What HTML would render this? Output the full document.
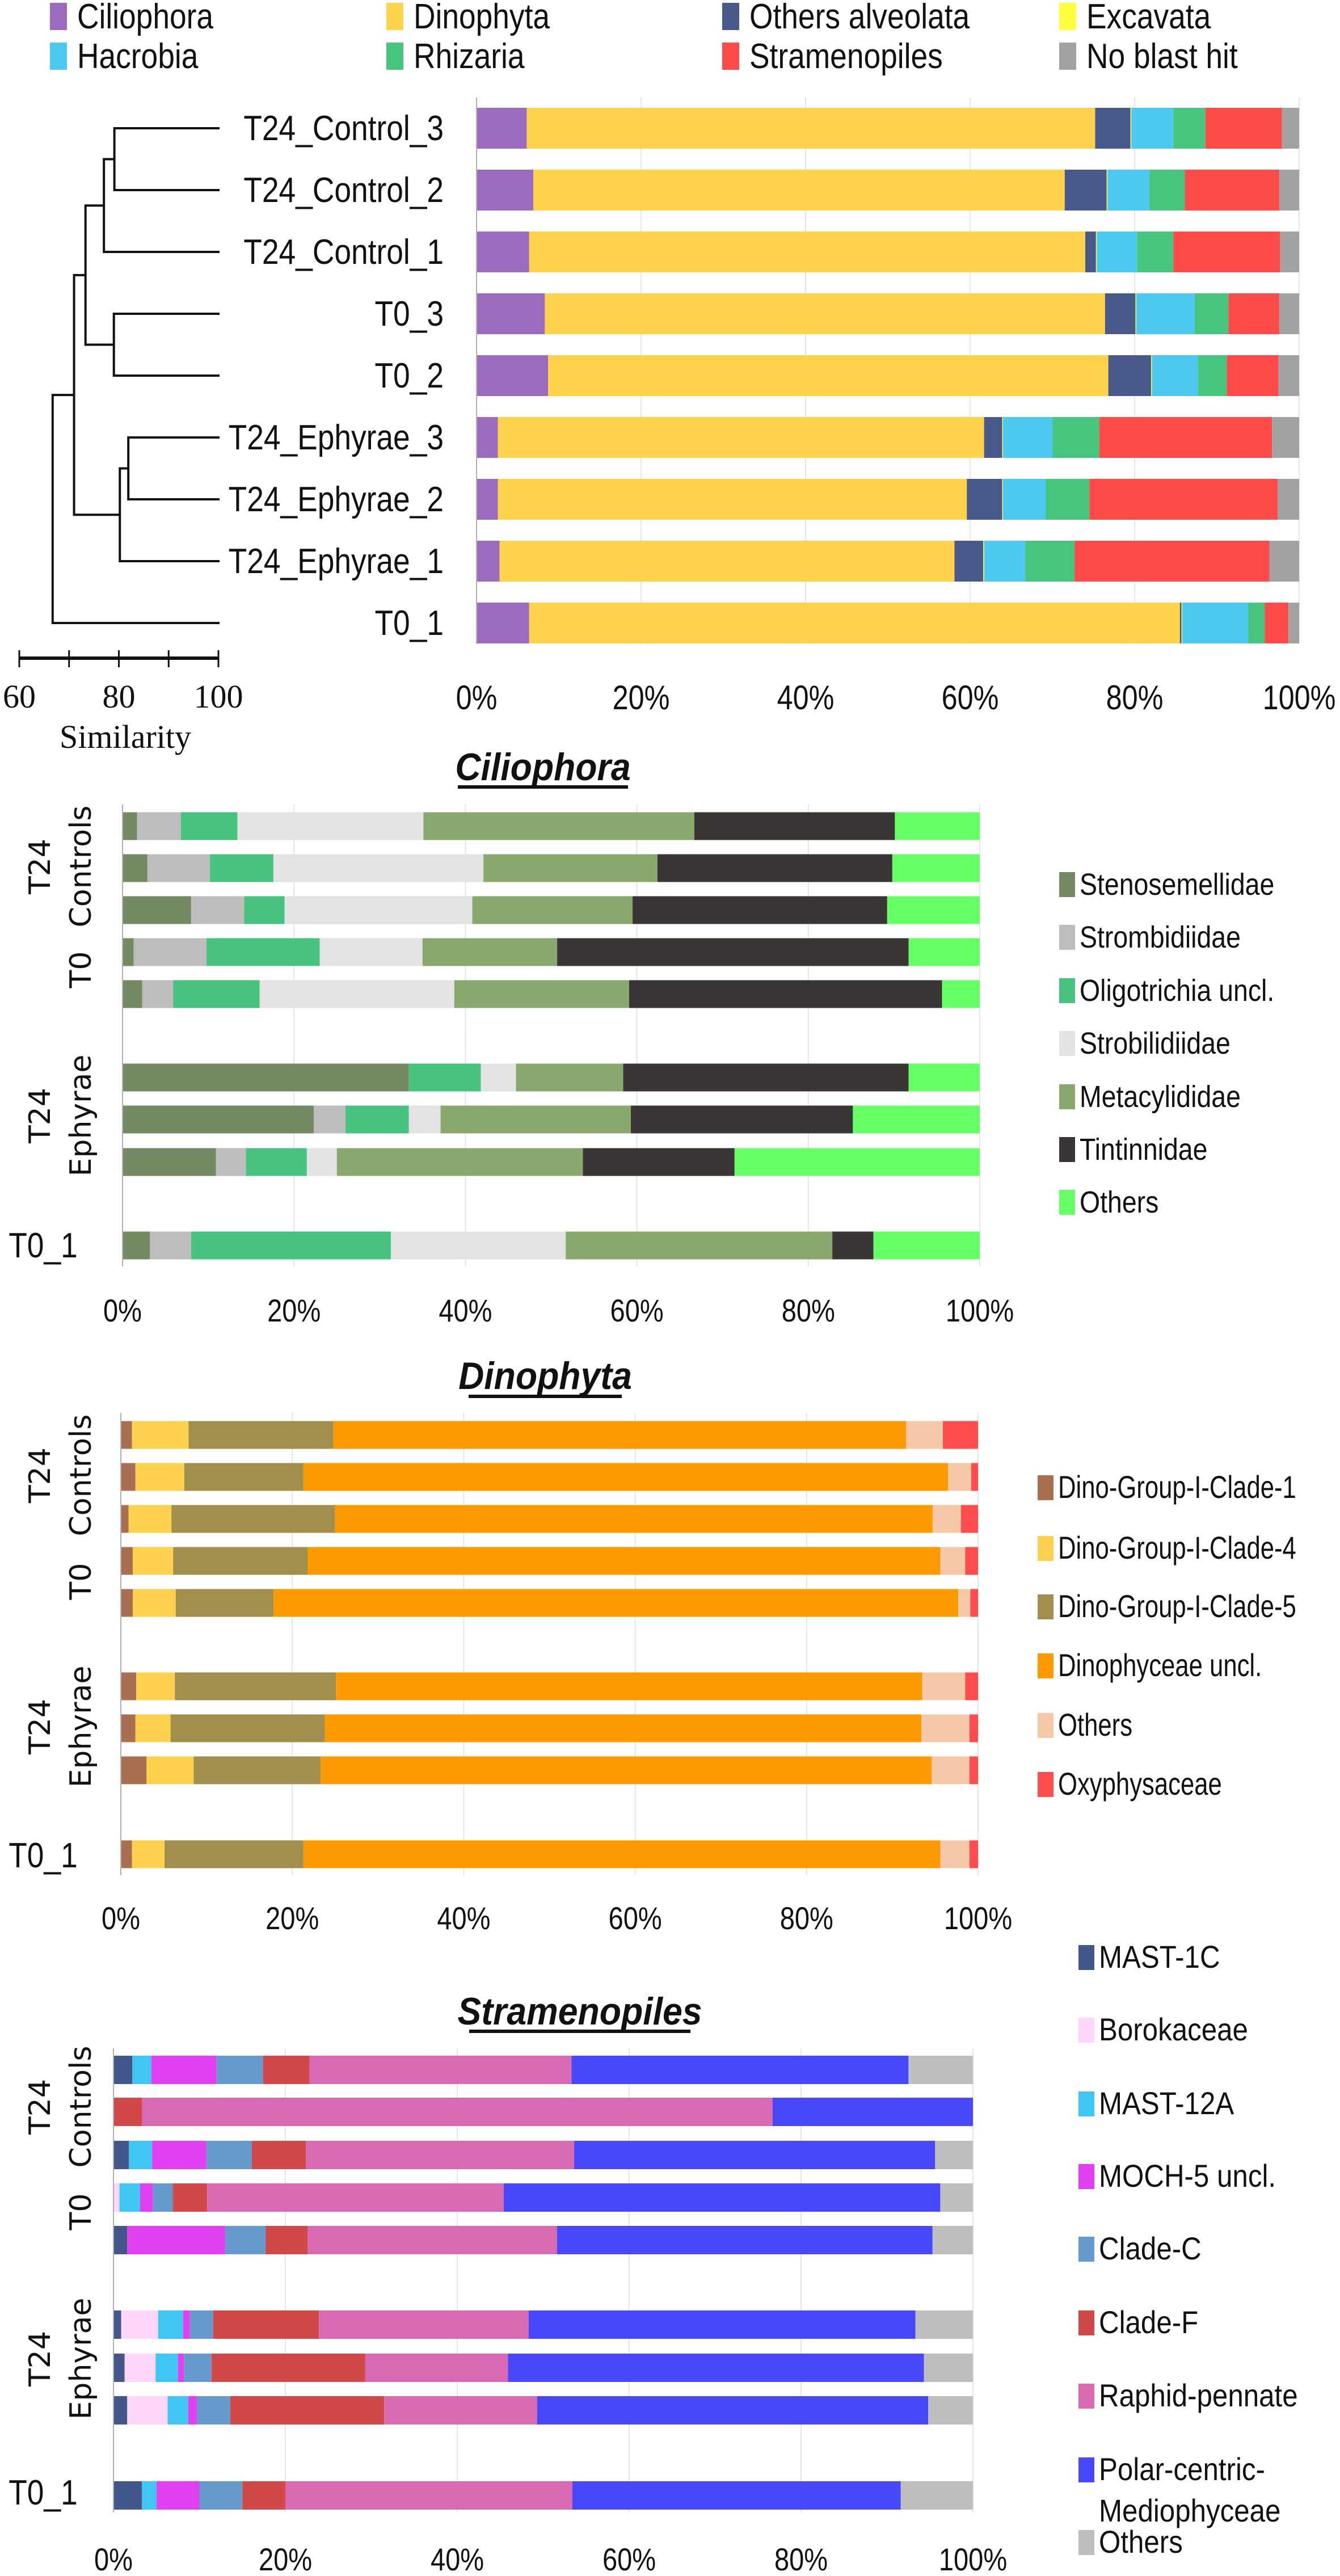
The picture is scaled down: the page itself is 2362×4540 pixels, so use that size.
<!DOCTYPE html>
<html><head><meta charset="utf-8">
<style>
html,body{margin:0;padding:0;background:#fff;}
svg{display:block;}
.n{font-family:"Liberation Sans Narrow","Liberation Sans",sans-serif;}
.w{font-family:"DejaVu Sans","Liberation Sans",sans-serif;}
.s{font-family:"Liberation Serif",serif;}
</style></head>
<body>
<svg id="fig" width="2362" height="4540" viewBox="0 0 2362 4540" xmlns="http://www.w3.org/2000/svg"></svg>
<script>
// ===== Top chart data =====
const topSamples = ["T24_Control_3","T24_Control_2","T24_Control_1","T0_3","T0_2","T24_Ephyrae_3","T24_Ephyrae_2","T24_Ephyrae_1","T0_1"];
const topCats = ["Ciliophora","Dinophyta","Others alveolata","Excavata","Hacrobia","Rhizaria","Stramenopiles","No blast hit"];
const topColors = ["#9b6bbd","#ffd24b","#48598a","#ffff40","#4dc8f0","#47c57e","#ff4a4a","#a2a2a2"];
const topCiliophora = [6.1,6.9,6.4,8.3,8.7,2.6,2.6,2.8,6.4];
const topDinophyta = [69.1,64.6,67.6,68.1,68.1,59.1,57.0,55.3,79.1];
const topOthersAlv = [4.3,5.1,1.3,3.7,5.2,2.2,4.3,3.5,0.2];
const topExcavata = [0.1,0.1,0.1,0.1,0.1,0.1,0.1,0.1,0.1];
const topHacrobia = [5.1,5.1,4.9,7.1,5.6,6.0,5.2,5.0,8.0];
const topRhizaria = [3.9,4.3,4.4,4.1,3.5,5.7,5.3,6.0,2.0];
const topStramenopiles = [9.3,11.5,13.0,6.2,6.3,21.0,22.9,23.7,2.9];
const topNoBlast = [2.1,2.4,2.3,2.4,2.5,3.3,2.6,3.6,1.3];
const topSeries = [topCiliophora,topDinophyta,topOthersAlv,topExcavata,topHacrobia,topRhizaria,topStramenopiles,topNoBlast];
const pctTicks = ["0%","20%","40%","60%","80%","100%"];
const pctTickValues = [0,20,40,60,80,100];

// dendrogram (similarity values)
const dendroTicks = [60,70,80,90,100];
const dendroTickLabels = ["60","80","100"];
const dendroTickLabelValues = [60,80,100];
const dendroMerges = [[0,1,79.1],["n0",2,77.0],[3,4,79.0],["n1","n2",73.3],[5,6,81.9],["n4",7,80.2],["n3","n5",71.0],["n6",8,66.7]];

// ===== Ciliophora =====
const cilCats = ["Stenosemellidae","Strombidiidae","Oligotrichia uncl.","Strobilidiidae","Metacylididae","Tintinnidae","Others"];
const cilColors = ["#738a62","#bdbdbd","#47c27f","#e3e3e3","#88a86e","#3a3636","#66ff66"];
const cilSteno = [1.7,2.9,8.0,1.3,2.3,33.4,22.3,10.9,3.2];
const cilStromb = [5.1,7.3,6.2,8.5,3.6,0,3.7,3.5,4.8];
const cilOligo = [6.6,7.4,4.7,13.2,10.1,8.4,7.4,7.1,23.3];
const cilStrobil = [21.7,24.5,21.9,12.0,22.7,4.1,3.7,3.5,20.4];
const cilMetacyl = [31.6,20.3,18.7,15.7,20.4,12.5,22.2,28.7,31.1];
const cilTintin = [23.4,27.4,29.7,41.0,36.5,33.3,25.9,17.7,4.8];
const cilOthers = [9.9,10.2,10.8,8.3,4.4,8.3,14.8,28.6,12.4];
const cilSeries = [cilSteno,cilStromb,cilOligo,cilStrobil,cilMetacyl,cilTintin,cilOthers];

// ===== Dinophyta =====
const dinoCats = ["Dino-Group-I-Clade-1","Dino-Group-I-Clade-4","Dino-Group-I-Clade-5","Dinophyceae uncl.","Others","Oxyphysaceae"];
const dinoColors = ["#a87050","#fdd04e","#a08f4d","#fc9a00","#f5c8a8","#ff4d4d"];
const dinoC1 = [1.3,1.7,0.9,1.4,1.4,1.8,1.7,3.0,1.3];
const dinoC4 = [6.6,5.7,5.0,4.7,5.0,4.5,4.1,5.5,3.8];
const dinoC5 = [16.9,13.9,19.1,15.7,11.4,18.8,18.0,14.8,16.2];
const dinoUncl = [66.8,75.2,69.7,73.8,79.9,68.4,69.6,71.3,74.3];
const dinoOthers = [4.3,2.7,3.3,2.9,1.4,5.0,5.6,4.4,3.4];
const dinoOxy = [4.1,0.8,2.0,1.5,0.9,1.5,1.0,1.0,1.0];
const dinoSeries = [dinoC1,dinoC4,dinoC5,dinoUncl,dinoOthers,dinoOxy];

// ===== Stramenopiles =====
const strCats = ["MAST-1C","Borokaceae","MAST-12A","MOCH-5 uncl.","Clade-C","Clade-F","Raphid-pennate","Polar-centric-Mediophyceae","Others"];
const strColors = ["#44578a","#ffd6fa","#40c6f3","#e040f0","#6699cc","#d04848","#d86ab4","#4848fa","#bebebe"];
const strMast1c = [2.2,0,1.8,0,1.6,0.9,1.3,1.6,3.3];
const strBoro = [0,0,0,0.7,0,4.3,3.6,4.7,0];
const strMast12a = [2.2,0,2.7,2.4,0,2.9,2.6,2.4,1.7];
const strMoch5 = [7.6,0,6.3,1.5,11.4,0.8,0.7,1.0,5.0];
const strCladeC = [5.4,0,5.3,2.3,4.7,2.7,3.2,3.9,5.0];
const strCladeF = [5.4,3.3,6.3,4.0,4.9,12.3,17.9,17.9,5.0];
const strRaphid = [30.5,73.4,31.2,34.5,29.0,24.4,16.6,17.8,33.4];
const strPolar = [39.2,23.3,42.0,50.8,43.7,45.0,48.4,45.5,38.2];
const strOthers = [7.5,0,4.4,3.8,4.7,6.7,5.7,5.2,8.4];
const strSeries = [strMast1c,strBoro,strMast12a,strMoch5,strCladeC,strCladeF,strRaphid,strPolar,strOthers];

const NS="http://www.w3.org/2000/svg";
const svg=document.getElementById('fig');
function mk(tag,attrs,parent){const e=document.createElementNS(NS,tag);for(const k in attrs)e.setAttribute(k,attrs[k]);(parent||svg).appendChild(e);return e;}
function txt(s,attrs,parent){const e=mk('text',attrs,parent);e.textContent=s;return e;}
function ctxt(s,x,y,sx,attrs,parent){
  const a=Object.assign({x:0,y:0,transform:`translate(${x} ${y}) scale(${sx} 1)`},attrs);
  return txt(s,a,parent);
}

function stackChart(o){
  const g=mk('g',{});
  
  
  const xs=v=>o.x0+(o.x1-o.x0)*v/100;
  pctTickValues.forEach((v,i)=>{
    if(i>0){const l=mk('line',{x1:xs(v),x2:xs(v),y1:o.gridTop,y2:o.gridBot,stroke:'#e6e6e6','stroke-width':2},g);
      
      }
  });
  o.rows.forEach((cy,r)=>{
    let acc=0;
    o.series.forEach((ser,c)=>{
      const v=ser[r];
      if(v>0){
        const rect=mk('rect',{x:xs(acc),y:cy-o.bh/2,width:xs(acc+v)-xs(acc),height:o.bh,fill:o.colors[c]},g);
        
        
      }
      acc+=v;
    });
  });
  const ax=mk('line',{x1:o.x0,x2:o.x0,y1:o.gridTop,y2:o.gridBot,stroke:'#b0b0b0','stroke-width':2},g);
  
  
  pctTickValues.forEach((v,i)=>{
    const t=ctxt(pctTicks[i],xs(v),o.tickY,0.84,{'font-size':o.tickFs||56,'text-anchor':'middle','class':'n',fill:'#111'},g);
    
    
  });
  if(o.legend){
    o.legend.ys.forEach((y,i)=>{
      const sq=mk('rect',{x:o.legend.x,y:y-22,width:28,height:44,fill:o.colors[i]},g);
      
      
      const lab=o.legend.labels?o.legend.labels[i]:o.cats[i];
      const t=ctxt(lab,o.legend.x+36,y+18,o.legend.sx||0.92,{'font-size':o.legend.fs||54,'class':'n',fill:'#111'},g);
      
      
    });
  }
  return g;
}

// ===== TOP LEGEND =====
const legX=[88,681,1273,1867], legY=[29,99];
topCats.forEach((c,i)=>{
  const x=legX[i%4], y=legY[Math.floor(i/4)];
  const sq=mk('rect',{x:x,y:y-24,width:30,height:48,fill:topColors[i]});
  
  
  const t=ctxt(c,x+48,y+21,0.86,{'font-size':62,'class':'n',fill:'#111'});
  
  
});

// ===== TOP CHART =====
const topRows=topSamples.map((s,i)=>226+109*i);
stackChart({name:'top-stacked-bar-chart',x0:840,x1:2290,rows:topRows,bh:72,series:topSeries,colors:topColors,gridTop:172,gridBot:1135,tickY:1250,tickFs:60});
topSamples.forEach((s,i)=>{
  const t=ctxt(s,782,topRows[i]+21,0.86,{'font-size':62,'text-anchor':'end','class':'n',fill:'#111'});
  
  
});

// ===== DENDROGRAM =====
const dx=v=>34+(v-60)*(385-34)/40;
const leafEnd=387;
const nodes=[];
function pos(k){ if(typeof k==='number') return {x:leafEnd,y:topRows[k]}; return nodes[parseInt(k.slice(1))]; }
const dg=mk('g',{});


dendroMerges.forEach(m=>{
  const a=pos(m[0]), b=pos(m[1]), x=dx(m[2]);
  const p=mk('path',{d:`M${a.x},${a.y}H${x}V${b.y}H${b.x}`,fill:'none',stroke:'#111','stroke-width':4},dg);
  
  
  nodes.push({x:x,y:(a.y+b.y)/2});
});
const sb=mk('line',{x1:dx(60),x2:dx(100),y1:1160,y2:1160,stroke:'#111','stroke-width':6});


dendroTicks.forEach(v=>{
  const l=mk('line',{x1:dx(v),x2:dx(v),y1:1146,y2:1176,stroke:'#111','stroke-width':3});
  
  
});
dendroTickLabels.forEach((s,i)=>{
  const t=txt(s,{x:dx(dendroTickLabelValues[i]),y:1247,'font-size':58,'text-anchor':'middle','class':'s',fill:'#111'});
  
  
});
const simT=txt('Similarity',{x:221,y:1318,'font-size':58,'text-anchor':'middle','class':'s',fill:'#111'});



// ===== helpers for group labels & titles =====
function title(s,cx,y,uy){
  const t=ctxt(s,cx,y,0.92,{'font-size':68,'font-weight':'bold','font-style':'italic','text-anchor':'middle','class':'n',fill:'#111'});
  
  
  const w=s.length*30;
  const u=mk('line',{x1:cx-w/2,x2:cx+w/2,y1:uy,y2:uy,stroke:'#111','stroke-width':6});
  
  
}
function rot(s,x,y){
  const t=txt(s,{x:x,y:y,'font-size':52,'text-anchor':'middle','class':'w',fill:'#111',transform:`rotate(-90 ${x} ${y})`});
  
  
}
function groups(yc,yt0,ye,yt1){
  rot('T24',88,yc); rot('Controls',160,yc);
  rot('T0',160,yt0);
  rot('T24',88,ye); rot('Ephyrae',160,ye);
  const t=ctxt('T0_1',76,yt1+21,0.86,{'font-size':62,'text-anchor':'middle','class':'n',fill:'#111'});
  
  
}

// ===== CILIOPHORA =====
title('Ciliophora',957,1375,1387);
const cilRows=[1456,1530,1604,1678,1752,1899,1973,2048,2195];
stackChart({name:'ciliophora-chart',x0:216,x1:1727,rows:cilRows,bh:49,series:cilSeries,colors:cilColors,cats:cilCats,gridTop:1418,gridBot:2232,tickY:2329,
  legend:{x:1867,ys:[1559,1652,1746,1839,1933,2026,2119],sx:0.86}});
groups(1527,1709,1966,2195);

// ===== DINOPHYTA =====
title('Dinophyta',961,2448,2461);
const dinoRows=[2529,2603,2677,2751,2825,2972,3046,3120,3268];
stackChart({name:'dinophyta-chart',x0:213,x1:1724,rows:dinoRows,bh:49,series:dinoSeries,colors:dinoColors,cats:dinoCats,gridTop:2490,gridBot:3305,tickY:3400,
  legend:{x:1829,ys:[2622,2729,2832,2936,3041,3145],fs:56,sx:0.78}});
groups(2600,2787,3043,3270);

// ===== STRAMENOPILES =====
title('Stramenopiles',1022,3568,3580);
const strRows=[3648,3722,3798,3873,3948,4097,4173,4248,4398];
stackChart({name:'stramenopiles-chart',x0:200,x1:1715,rows:strRows,bh:50,series:strSeries,colors:strColors,cats:strCats,gridTop:3610,gridBot:4428,tickY:4530,
  legend:{x:1901,ys:[3450,3578,3708,3836,3964,4094,4223,4353,4481],labels:["MAST-1C","Borokaceae","MAST-12A","MOCH-5 uncl.","Clade-C","Clade-F","Raphid-pennate","Polar-centric-","Others"],fs:56,sx:0.88}});
const med=ctxt('Mediophyceae',1937,4444,0.88,{'font-size':56,'class':'n',fill:'#111'});


groups(3713,3898,4157,4393);
</script>
</body></html>
